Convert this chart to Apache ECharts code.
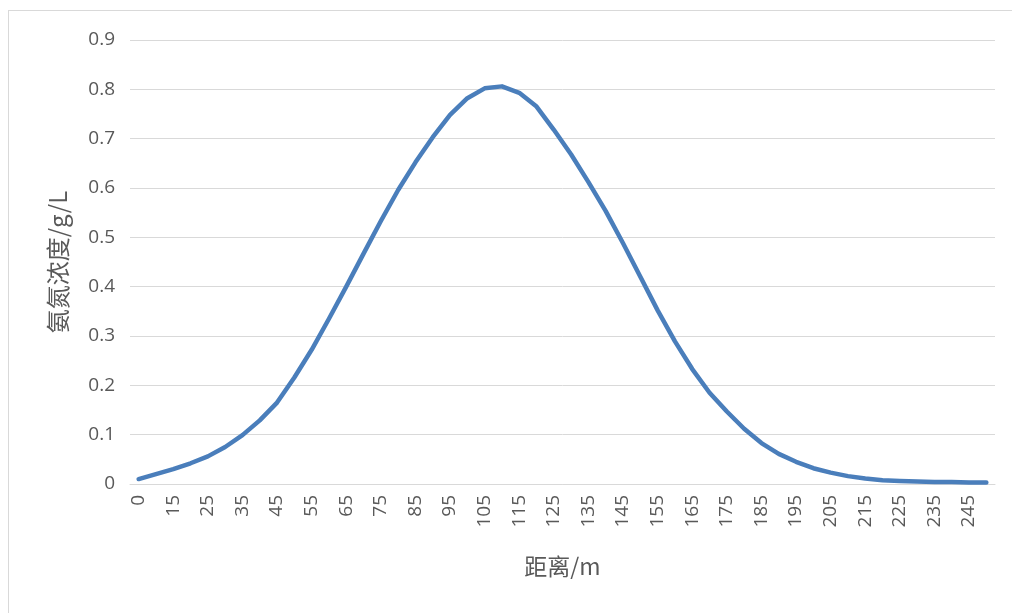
<!DOCTYPE html>
<html>
<head>
<meta charset="utf-8">
<script src="https://cdn.jsdelivr.net/npm/echarts@6/dist/echarts.min.js"></script>
<style>
html,body{margin:0;padding:0;background:#fff;}
#frame{position:absolute;left:8px;top:10px;width:1010px;height:610px;border:1px solid #d9d9d9;box-sizing:border-box;}
#chart{position:absolute;left:0;top:0;width:1012px;height:613px;}
</style>
</head>
<body>
<div id="frame"></div>
<div id="chart"></div>
<script>
// Distance categories (m)
const distances = ['0','10','15','20','25','30','35','40','45','50','55','60','65','70','75','80','85','90','95','100',
  '105','110','115','120','125','130','135','140','145','150','155','160','165','170','175','180','185','190','195','200',
  '205','210','215','220','225','230','235','240','245','250'];
// Ammonia nitrogen concentration (g/L)
const concentration = [0.010,0.020,0.030,0.042,0.056,0.075,0.099,0.129,0.165,0.216,
  0.272,0.335,0.400,0.467,0.533,0.596,0.652,0.703,0.748,0.782,
  0.802,0.806,0.793,0.765,0.718,0.668,0.612,0.553,0.488,0.420,
  0.352,0.289,0.233,0.185,0.147,0.112,0.083,0.061,0.045,0.032,
  0.023,0.016,0.011,0.0075,0.006,0.005,0.004,0.004,0.003,0.003];
const yTicks = {min:0, max:0.9, interval:0.1};
const xName = '距离/m';
const yName = '氨氮浓度/g/L';

const chart = echarts.init(document.getElementById('chart'), null, {renderer:'canvas'});
const numFont = '"Open Sans", "Noto Sans", sans-serif';
const cjkFont = '"Noto Sans CJK SC", sans-serif';
chart.setOption({
  animation:false,
  backgroundColor:'transparent',
  grid:{left:130, right:17, top:40, bottom:129, containLabel:false},
  xAxis:{
    type:'category',
    data:distances,
    boundaryGap:true,
    name:xName,
    nameLocation:'middle',
    nameGap:71,
    nameTextStyle:{fontFamily:cjkFont, fontSize:23, color:'#595959'},
    axisLine:{show:true, lineStyle:{color:'#d9d9d9', width:1}},
    axisTick:{show:false},
    axisLabel:{interval:1, rotate:90, fontFamily:numFont, fontSize:19, color:'#595959', margin:11},
    splitLine:{show:false}
  },
  yAxis:{
    type:'value',
    min:yTicks.min, max:yTicks.max, interval:yTicks.interval,
    name:yName,
    nameLocation:'middle',
    nameGap:60,
    nameRotate:90,
    nameTextStyle:{fontFamily:cjkFont, fontSize:24, color:'#595959'},
    axisLine:{show:false},
    axisTick:{show:false},
    axisLabel:{fontFamily:numFont, fontSize:19, color:'#595959', margin:15,
      formatter:function(v){return v===0?'0':v.toFixed(1);}},
    splitLine:{lineStyle:{color:'#d9d9d9', width:1}}
  },
  series:[{
    type:'line',
    data:concentration,
    smooth:false,
    showSymbol:false,
    lineStyle:{color:'#4a7ebb', width:4.5, cap:'round', join:'round'},
    itemStyle:{color:'#4a7ebb'}
  }]
});
</script>
</body>
</html>
